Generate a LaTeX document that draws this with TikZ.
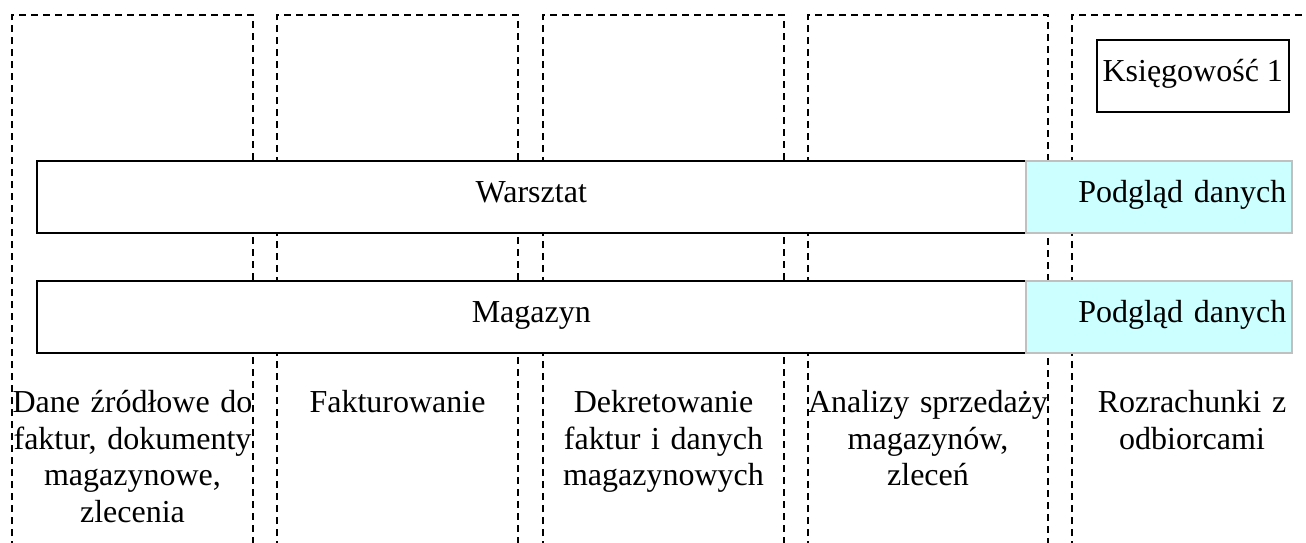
\documentclass[tikz,border=0pt]{standalone}
\usepackage{fontspec}
\setmainfont{Liberation Serif}
\definecolor{viewfill}{RGB}{204,255,255}
\definecolor{viewdraw}{RGB}{192,192,192}
\begin{document}
\begin{tikzpicture}[x=1pt,y=-1pt,
  lane/.style={draw=black,line width=1.5pt,dash pattern=on 7pt off 5pt},
  label/.style={font=\fontsize{32}{36.7}\selectfont},
  boxlabel/.style={label,text height=22pt,text depth=11pt},
  bar/.style={boxlabel,draw=black,line width=1.6pt,fill=white,minimum height=72pt,inner sep=0pt},
  view/.style={boxlabel,draw=viewdraw,line width=1.5pt,fill=viewfill,minimum height=72pt,inner sep=5pt,text width=255pt,align=right},
  laneText/.style={label,text width=280pt,align=center,anchor=north,inner sep=0pt}
]
\useasboundingbox (0,0) rectangle (1306,542);
% lanes
\draw[lane] (12,560) -- (12,15) -- (253,15) -- (253,560);
\draw[lane] (277,560) -- (277,15) -- (518,15) -- (518,560);
\draw[lane] (543,560) -- (543,15) -- (784,15) -- (784,560);
\draw[lane] (808,560) -- (808,15) -- (1048,15) -- (1048,560);
\draw[lane] (1072,560) -- (1072,15) -- (1320,15);
% boxes
\node[bar,minimum width=989pt,anchor=north west] (warsztat) at (36,160) {Warsztat};
\node[view,minimum width=266pt,anchor=north west] (pw) at (1025,160) {Podgląd danych};
\node[bar,minimum width=989pt,anchor=north west] (magazyn) at (36,280) {Magazyn};
\node[view,minimum width=266pt,anchor=north west] (pm) at (1025,280) {Podgląd danych};
\node[boxlabel,draw=black,line width=1.5pt,minimum width=192pt,minimum height=72pt,inner sep=0pt,anchor=north west] (ks) at (1096,39) {Księgowość 1};
% lane texts
\node[laneText] (t1) at (132.5,390) {Dane źródłowe do\\faktur, dokumenty\\magazynowe,\\zlecenia};
\node[laneText] (t2) at (397.5,390) {Fakturowanie};
\node[laneText] (t3) at (663.5,390) {Dekretowanie\\faktur i danych\\magazynowych};
\node[laneText] (t4) at (928,390) {Analizy sprzedaży\\magazynów,\\zleceń};
\node[laneText] (t5) at (1192,390) {Rozrachunki z\\odbiorcami};
\end{tikzpicture}
\end{document}
